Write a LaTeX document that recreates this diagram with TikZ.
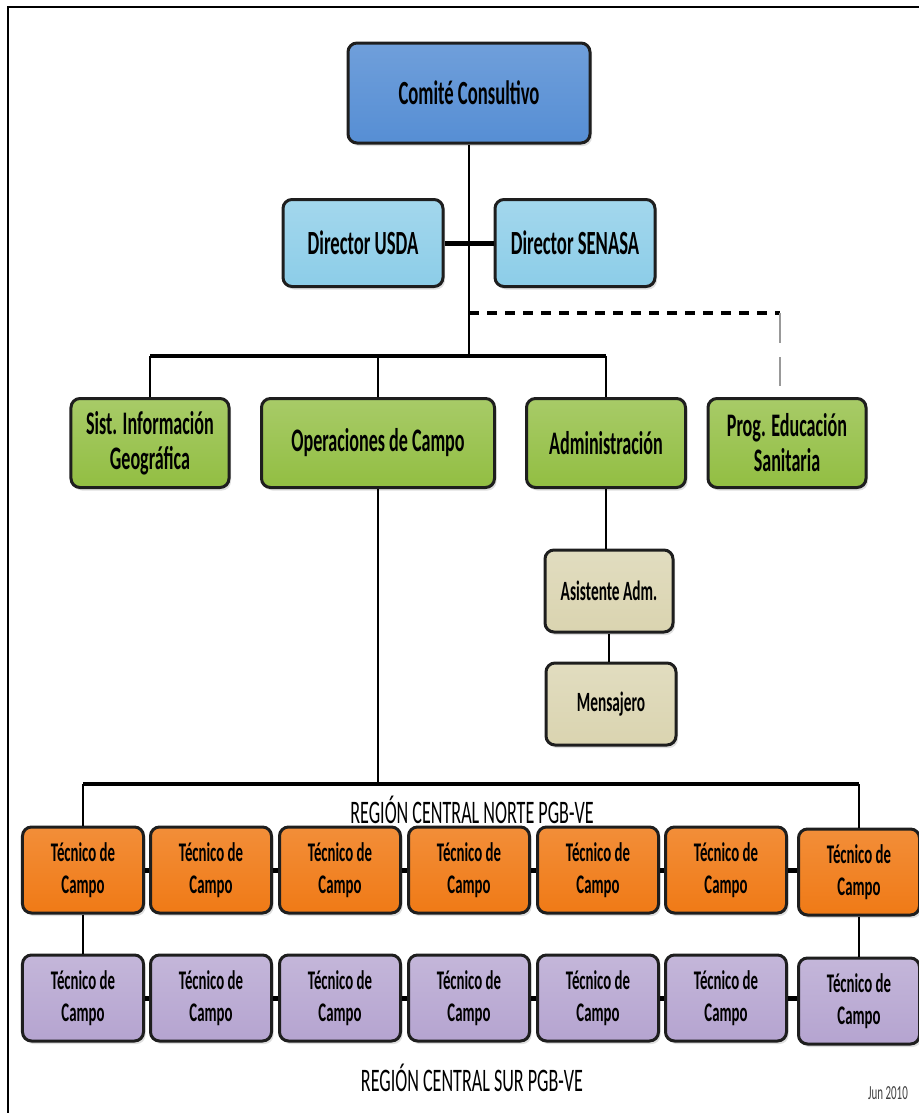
\documentclass[tikz,border=0pt]{standalone}
\usepackage{fontspec}
\setmainfont{Carlito}[FakeStretch=0.55]
\usetikzlibrary{shadows}

\definecolor{azul}{RGB}{86,142,212}
\definecolor{celeste}{RGB}{140,205,232}
\definecolor{verde}{RGB}{146,190,66}
\definecolor{arena}{RGB}{218,212,176}
\definecolor{naranja}{RGB}{240,122,22}
\definecolor{lila}{RGB}{181,164,208}
\definecolor{borde}{RGB}{30,30,30}

\tikzset{
  caja/.style={draw=borde, line width=3bp, rounded corners=9bp, align=center,
    inner sep=2bp, drop shadow={opacity=0.25, shadow xshift=2bp, shadow yshift=-3bp}},
  caja azul/.style={caja, top color=azul!85!white, bottom color=azul, minimum width=242bp, minimum height=100bp,
    font=\fontsize{34}{38}\selectfont\bfseries},
  caja dir/.style={caja, top color=celeste!80!white, bottom color=celeste, minimum width=160bp, minimum height=87bp,
    font=\fontsize{34}{38}\selectfont\bfseries},
  caja area/.style={caja, top color=verde!80!white, bottom color=verde, minimum height=89bp,
    font=\fontsize{33}{35}\selectfont\bfseries},
  caja apoyo/.style={caja, top color=arena!80!white, bottom color=arena, minimum height=82bp,
    font=\fontsize{28}{32}\selectfont\bfseries},
  caja norte/.style={caja, top color=naranja!85!white, bottom color=naranja, minimum width=121bp, minimum height=86bp,
    font=\fontsize{27}{32}\selectfont\bfseries},
  caja sur/.style={caja, top color=lila!80!white, bottom color=lila, minimum width=121bp, minimum height=86bp,
    font=\fontsize{27}{32}\selectfont\bfseries},
  linea/.style={draw=black, line width=2.5bp},
  union/.style={draw=black, line width=5bp},
  barra/.style={draw=black, line width=3.5bp},
  region/.style={font=\fontsize{33}{36}\selectfont}
}

\begin{document}
\begin{tikzpicture}[x=1bp, y=-1bp]
\useasboundingbox (0,0) rectangle (919,1113);
% marco
\draw[line width=2.5bp] (8,1113) -- (8,7) -- (919,7);

% direccion
\node[caja azul] (comite) at (469,93) {Comité Consultivo};
\node[caja dir] (usda) at (363,243) {Director USDA};
\node[caja dir] (senasa) at (575,243) {Director SENASA};

% areas
\node[caja area, minimum width=158bp] (sig) at (150,443) {Sist. Información\\Geográfica};
\node[caja area, minimum width=233bp] (ops) at (378,443) {Operaciones de Campo};
\node[caja area, minimum width=159bp] (admin) at (606,443) {Administración};
\node[caja area, minimum width=158bp] (prog) at (787,443) {Prog. Educación\\Sanitaria};

\node[caja apoyo, minimum width=128bp] (asis) at (609,591) {Asistente Adm.};
\node[caja apoyo, minimum width=130bp] (mens) at (611,704) {Mensajero};

% region norte
\node[region] (norte) at (472,810) {REGIÓN CENTRAL NORTE PGB-VE};
\node[caja norte] (n1) at (83,870) {Técnico de\\Campo};
\node[caja norte] (n2) at (211,870) {Técnico de\\Campo};
\node[caja norte] (n3) at (340,870) {Técnico de\\Campo};
\node[caja norte] (n4) at (469,870) {Técnico de\\Campo};
\node[caja norte] (n5) at (598,870) {Técnico de\\Campo};
\node[caja norte] (n6) at (726,870) {Técnico de\\Campo};
\node[caja norte] (n7) at (859,872) {Técnico de\\Campo};

% region sur
\node[caja sur] (s1) at (83,998) {Técnico de\\Campo};
\node[caja sur] (s2) at (211,998) {Técnico de\\Campo};
\node[caja sur] (s3) at (340,998) {Técnico de\\Campo};
\node[caja sur] (s4) at (469,998) {Técnico de\\Campo};
\node[caja sur] (s5) at (598,998) {Técnico de\\Campo};
\node[caja sur] (s6) at (726,998) {Técnico de\\Campo};
\node[caja sur] (s7) at (859,1001) {Técnico de\\Campo};
\node[region] (sur) at (472,1078) {REGIÓN CENTRAL SUR PGB-VE};
\node[font=\fontsize{20}{22}\selectfont, text=black!75] (fecha) at (888,1093) {Jun 2010};

% conexiones arriba
\coordinate (j1) at (469,356);
\coordinate (d1) at (469,313);
\coordinate (d2) at (780,313);
\coordinate (d3) at (780,386);
\draw[linea] (comite.south) -- (j1);
\draw[union] (usda.east) -- (senasa.west);
\draw[barra, dash pattern=on 10bp off 8bp] (d1) -- (d2);
\draw[line width=2bp, black!40, dash pattern=on 30bp off 14bp] (d2) -- (d3);
\draw[barra] (sig.north |- j1) -- (admin.north |- j1);
\draw[linea] (sig.north) -- (sig.north |- j1);
\draw[linea] (ops.north) -- (ops.north |- j1);
\draw[linea] (admin.north) -- (admin.north |- j1);
\draw[linea] (admin.south) -- (admin.south |- asis.north);
\draw[linea] (asis.south) -- (asis.south |- mens.north);

% conexiones abajo
\coordinate (j2) at (378,784);
\draw[linea] (ops.south) -- (j2);
\draw[barra] (n1.north |- j2) -- (n7.north |- j2);
\draw[linea] (n1.north) -- (n1.north |- j2);
\draw[linea] (n7.north) -- (n7.north |- j2);
\draw[linea] (n1.south) -- (s1.north);
\draw[linea] (n7.south) -- (s7.north);
\draw[union] (n1.east) -- (n2.west);
\draw[union] (n2.east) -- (n3.west);
\draw[union] (n3.east) -- (n4.west);
\draw[union] (n4.east) -- (n5.west);
\draw[union] (n5.east) -- (n6.west);
\draw[union] (n6.east) -- (n6.east -| n7.west);
\draw[union] (s1.east) -- (s2.west);
\draw[union] (s2.east) -- (s3.west);
\draw[union] (s3.east) -- (s4.west);
\draw[union] (s4.east) -- (s5.west);
\draw[union] (s5.east) -- (s6.west);
\draw[union] (s6.east) -- (s6.east -| s7.west);
\end{tikzpicture}
\end{document}
